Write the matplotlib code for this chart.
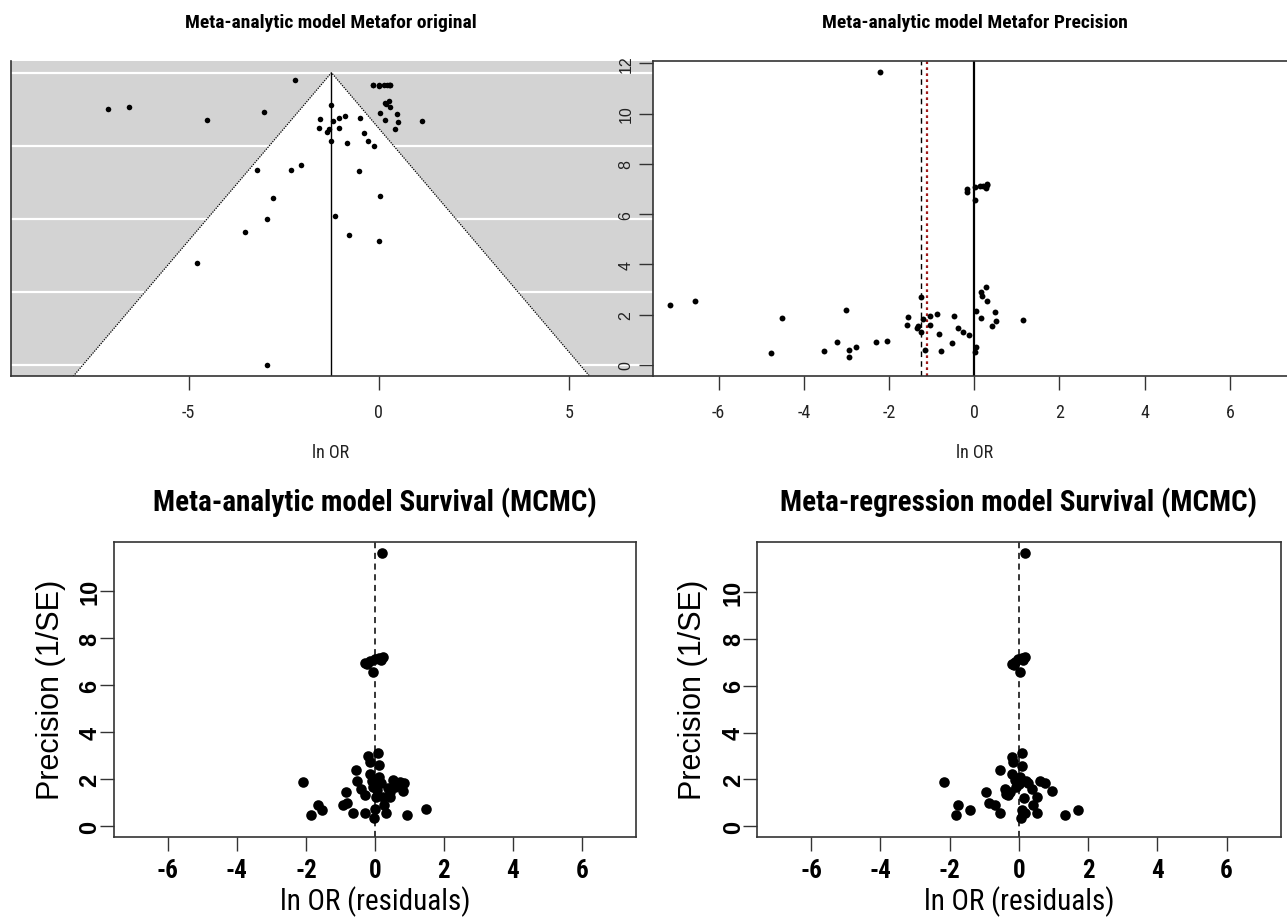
import numpy as np
import matplotlib
matplotlib.use("Agg")
import matplotlib.pyplot as plt

plt.rcParams['font.family'] = ['Liberation Sans', 'DejaVu Sans']
plt.rcParams['axes.unicode_minus'] = False

COND = ['Roboto Condensed', 'Liberation Sans', 'DejaVu Sans']
PLAIN = ['Liberation Sans', 'DejaVu Sans']

# ---- study-level data (log odds ratio and precision = 1/SE) ----
ln_or = [-7.13, -6.56, -4.77, -4.52, -3.52, -3.21, -3.01, -2.93, -2.93, -2.77,
         -2.31, -2.21, -2.05, -1.58, -1.55, -1.35, -1.31, -1.25, -1.24, -1.21,
         -1.16, -1.05, -1.04, -0.88, -0.83, -0.78, -0.52, -0.48, -0.39, -0.27,
         -0.16, -0.16, -0.12, 0.02, 0.02, 0.02, 0.05, 0.05, 0.13, 0.16,
         0.17, 0.19, 0.21, 0.27, 0.27, 0.29, 0.30, 0.31, 0.42, 0.48,
         0.50, 1.14]
precision = [2.39, 2.55, 0.46, 1.86, 0.55, 0.90, 2.20, 0.60, 0.30, 0.70,
             0.90, 11.64, 0.95, 1.59, 1.91, 1.47, 1.55, 1.29, 2.72, 1.81,
             0.61, 1.94, 1.59, 2.01, 1.24, 0.54, 0.89, 1.94, 1.45, 1.29,
             6.90, 7.00, 1.20, 0.52, 6.57, 7.08, 0.71, 2.16, 7.12, 2.91,
             1.85, 2.76, 7.12, 3.10, 7.05, 7.14, 2.56, 7.20, 1.55, 2.11,
             1.76, 1.80]

pooled_est = -1.24      # random-effects estimate (metafor)
adjusted_est = -1.10    # precision-adjusted estimate

# ---- MCMC model residuals ----
resid_ma = [0.22, -0.29, -0.14, 0.00, 0.13, 0.24, 0.19, -0.05, -0.22, -2.08,
            -1.85, -1.64, -1.53, -0.92, -0.84, -0.82, -0.63, -0.55, -0.53, -0.39,
            -0.29, -0.29, -0.19, -0.14, -0.14, -0.05, -0.03, 0.00, 0.03, 0.10,
            0.12, 0.13, 0.19, 0.24, 0.26, 0.31, 0.39, 0.43, 0.51, 0.58,
            0.72, 0.82, 0.84, 0.94, 1.47, -0.08, 0.05, 0.45]
prec_ma = [11.63, 6.93, 7.02, 7.12, 7.18, 7.22, 7.08, 6.58, 6.90, 1.88,
           0.47, 0.93, 0.69, 0.93, 1.48, 1.00, 0.58, 2.41, 1.93, 1.59,
           1.34, 0.58, 2.98, 2.73, 2.22, 1.69, 0.37, 0.72, 1.27, 3.12,
           2.59, 2.11, 1.83, 1.27, 0.89, 0.58, 1.62, 1.27, 1.97, 1.69,
           1.90, 1.51, 1.83, 0.47, 0.72, 1.94, 1.55, 1.45]

resid_mr = [0.17, -0.21, -0.12, -0.02, 0.08, 0.17, 0.12, 0.03, -0.15, -2.16,
            -1.83, -1.76, -1.40, -0.94, -0.86, -0.70, -0.55, -0.55, -0.41, -0.38,
            -0.31, -0.21, -0.18, -0.21, -0.12, -0.07, 0.05, 0.08, 0.08, 0.10,
            0.03, 0.14, 0.17, 0.27, 0.37, 0.42, 0.51, 0.53, 0.61, 0.75,
            0.97, 1.33, 1.70, -0.25, 0.00, 0.20]
prec_mr = [11.66, 6.93, 7.02, 7.12, 7.16, 7.23, 7.08, 6.58, 6.88, 1.88,
           0.47, 0.93, 0.69, 1.48, 1.00, 0.93, 0.58, 2.41, 1.59, 1.39,
           1.34, 2.98, 2.76, 2.24, 1.97, 1.66, 0.37, 0.72, 3.12, 2.59,
           2.11, 1.23, 0.58, 1.83, 1.59, 0.93, 1.27, 0.58, 1.93, 1.86,
           1.51, 0.47, 0.72, 1.45, 1.80, 1.95]

W, H = 1287, 920
fig = plt.figure(figsize=(W / 100, H / 100), dpi=100)


def box(x0, y0, x1, y1):
    """Pixel box (top-left origin) -> figure fraction rect."""
    return [x0 / W, 1 - y1 / H, (x1 - x0) / W, (y1 - y0) / H]


def px(x, y):
    return x / W, 1 - y / H


spine_col = '#333333'

# ---------------- Funnel plot (SE on reversed y axis) ----------------
se = 1.0 / np.asarray(precision)
se_max = se.max()
ax1 = fig.add_axes(box(10.7, 62, 653, 377.3))
ax1.set_xlim(-9.68, 7.22)
ax1.set_ylim(se_max * 1.04, -se_max * 0.04)
ax1.set_facecolor('#d3d3d3')
se_bot = se_max * 1.04
ax1.fill([pooled_est - 1.96 * se_bot, pooled_est, pooled_est + 1.96 * se_bot],
         [se_bot, 0, se_bot], color='white', zorder=1, lw=0)
for g in np.linspace(0, se_max, 5):
    ax1.axhline(g, color='white', lw=1.6, zorder=0.5)
ax1.plot([pooled_est - 1.96 * se_bot, pooled_est, pooled_est + 1.96 * se_bot],
         [se_bot, 0, se_bot], color='black', ls=(0, (1, 1)), lw=0.9, zorder=2)
ax1.plot([pooled_est, pooled_est], [0, se_bot], color='black', lw=1.0, zorder=2)
ax1.scatter(ln_or, se, s=16, color='black', zorder=3, linewidths=0)
for s in ['top', 'right']:
    ax1.spines[s].set_visible(False)
for s in ['left', 'bottom']:
    ax1.spines[s].set_color(spine_col)
    ax1.spines[s].set_linewidth(1.2)
ax1.set_yticks([])
ax1.set_xticks([-5, 0, 5])
ax1.tick_params(axis='x', direction='out', length=10, width=1, color=spine_col,
                pad=9, labelsize=13, labelcolor='#222222')
for lab in ax1.get_xticklabels():
    lab.set_family(COND)

# ---------------- Precision plot ----------------
ax2 = fig.add_axes(box(653, 62, 1295.5, 377.3))
ax2.set_xlim(-7.54, 7.54)
pmin, pmax = min(precision), max(precision)
pr = pmax - pmin
ax2.set_ylim(pmin - 0.04 * pr - pmin, pmax + 0.04 * pr)
ax2.set_facecolor('white')
ax2.axvline(0, color='black', lw=1.6, zorder=1)
ax2.axvline(pooled_est, color='black', ls=(0, (4, 3)), lw=1.0, zorder=1)
ax2.axvline(adjusted_est, color='#a01818', ls=(0, (1.2, 1.5)), lw=1.6, zorder=1)
ax2.scatter(ln_or, precision, s=18, color='black', zorder=3, linewidths=0)
for s in ax2.spines.values():
    s.set_color(spine_col)
    s.set_linewidth(1.2)
ax2.set_xticks([-6, -4, -2, 0, 2, 4, 6])
ax2.set_yticks([0, 2, 4, 6, 8, 10, 12])
ax2.tick_params(axis='both', direction='out', length=10, width=1, color=spine_col,
                labelsize=13, labelcolor='#222222')
ax2.tick_params(axis='x', pad=9)
ax2.tick_params(axis='y', pad=4, labelrotation=90, labelsize=11.5)
for lab in ax2.get_xticklabels():
    lab.set_family(COND)
for lab in ax2.get_yticklabels():
    lab.set_va('center')

fig.text(*px(331, 23), 'Meta-analytic model Metafor original', ha='center', va='center',
         fontsize=14, fontweight='bold', family=COND)
fig.text(*px(975, 23), 'Meta-analytic model Metafor Precision', ha='center', va='center',
         fontsize=14, fontweight='bold', family=COND)
fig.text(*px(331, 453), 'ln OR', ha='center', va='center', fontsize=13,
         color='#222222', family=COND)
fig.text(*px(975, 453), 'ln OR', ha='center', va='center', fontsize=13,
         color='#222222', family=COND)


# ---------------- MCMC residual funnels ----------------
def residual_panel(rect, xs, ys, title, title_x):
    ax = fig.add_axes(rect)
    ax.set_xlim(-7.56, 7.56)
    ymin, ymax = min(ys), max(ys)
    rr = ymax - ymin
    ax.set_ylim(ymin - 0.04 * rr - ymin, ymax + 0.04 * rr)
    ax.axvline(0, color='black', ls=(0, (4, 3)), lw=1.1, zorder=1)
    ax.scatter(xs, ys, s=58, color='black', zorder=3, linewidths=0)
    for s in ax.spines.values():
        s.set_color(spine_col)
        s.set_linewidth(1.2)
    ax.set_xticks([-6, -4, -2, 0, 2, 4, 6])
    ax.set_yticks([0, 2, 4, 6, 8, 10])
    ax.tick_params(axis='both', direction='out', length=10, width=1, color=spine_col)
    ax.tick_params(axis='x', pad=5, labelsize=18)
    ax.tick_params(axis='y', pad=-1, labelrotation=90, labelsize=17)
    for lab in ax.get_xticklabels():
        lab.set_family(COND)
        lab.set_fontweight('bold')
    for lab in ax.get_yticklabels():
        lab.set_family(PLAIN)
        lab.set_fontweight('bold')
        lab.set_va('center')
    fig.text(*px(title_x, 503), title, ha='center', va='center', fontsize=21,
             fontweight='bold', family=COND)
    fig.text(*px(title_x, 902), 'ln OR (residuals)', ha='center', va='center',
             fontsize=21, family=COND)
    return ax


ax3 = residual_panel(box(114, 543.3, 635.8, 838), resid_ma, prec_ma,
                     'Meta-analytic model Survival (MCMC)', 375)
ax4 = residual_panel(box(757.3, 543.3, 1280.5, 838), resid_mr, prec_mr,
                     'Meta-regression model Survival (MCMC)', 1019)

fig.text(*px(51, 690), 'Precision (1/SE)', rotation=90, ha='center', va='center',
         fontsize=22, family=PLAIN)
fig.text(*px(693, 690), 'Precision (1/SE)', rotation=90, ha='center', va='center',
         fontsize=22, family=PLAIN)

fig.savefig('out.png', dpi=100)
